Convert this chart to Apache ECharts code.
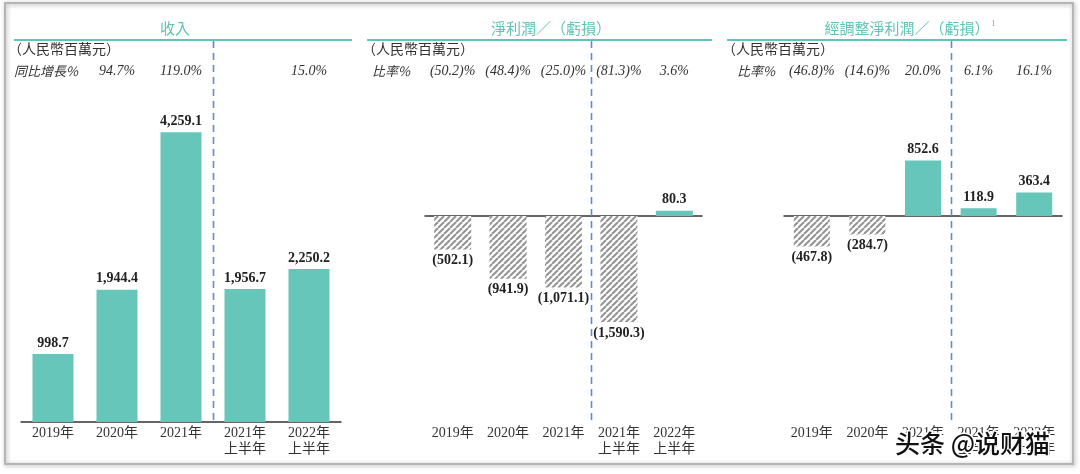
<!DOCTYPE html>
<html>
<head>
<meta charset="utf-8">
<script src="https://cdn.jsdelivr.net/npm/echarts@6/dist/echarts.min.js"></script>
<style>
html,body{margin:0;padding:0;background:#fff;}
#main{width:1080px;height:474px;}
</style>
</head>
<body>
<div id="main"></div>
<script>
// ---- data ----
const categories = ['2019年', '2020年', '2021年', '2021年\n上半年', '2022年\n上半年'];
const revenue = [998.7, 1944.4, 4259.1, 1956.7, 2250.2];
const revenueGrowth = ['', '94.7%', '119.0%', '', '15.0%'];
const netProfit = [-502.1, -941.9, -1071.1, -1590.3, 80.3];
const netMargin = ['(50.2)%', '(48.4)%', '(25.0)%', '(81.3)%', '3.6%'];
const adjProfit = [-467.8, -284.7, 852.6, 118.9, 363.4];
const adjMargin = ['(46.8)%', '(14.6)%', '20.0%', '6.1%', '16.1%'];
const panelTitles = ['收入', '淨利潤／（虧損）', '經調整淨利潤／（虧損）'];
const footnoteMark = '1';
const unitText = '（人民幣百萬元）';
const rowLabels = ['同比增長%', '比率%', '比率%'];

// ---- styles ----
const TEAL = '#66c6b9';
const TITLE_TEAL = '#5fc3b5';
const SERIF = "'Liberation Serif','Noto Sans CJK TC',serif";
const CJK = "'Noto Sans CJK TC','Liberation Serif',sans-serif";

const hatch = document.createElement('canvas');
hatch.width = 6; hatch.height = 6;
(function () {
  const c = hatch.getContext('2d');
  c.fillStyle = '#ffffff'; c.fillRect(0, 0, 6, 6);
  c.strokeStyle = '#939393'; c.lineWidth = 2;
  for (let k = -6; k <= 6; k += 6) {
    c.beginPath(); c.moveTo(k, 6); c.lineTo(k + 6, 0); c.stroke();
  }
})();
const hatchFill = { image: hatch, repeat: 'repeat' };

function fmt(v) {
  const s = Math.abs(v).toLocaleString('en-US', { minimumFractionDigits: 1, maximumFractionDigits: 1 });
  return v < 0 ? '(' + s + ')' : s;
}
function items(arr) {
  return arr.map(v => ({
    value: v,
    itemStyle: { color: v < 0 ? hatchFill : TEAL },
    label: { position: v < 0 ? 'bottom' : 'top' }
  }));
}

const grids = [
  { left: 21, width: 320, top: 100, height: 322 },
  { left: 425, width: 277, top: 100, height: 322 },
  { left: 784, width: 278, top: 100, height: 322 }
];
const yRanges = [[0, 4735], [-3088, 1739], [-3169, 1785]];
const topRows = [revenueGrowth, netMargin, adjMargin];
const seriesData = [revenue, netProfit, adjProfit];
const barWidths = [41, 37, 36];

const xAxes = [], yAxes = [], series = [];
const labelAxisIdx = [];
grids.forEach((g, gi) => {
  yAxes.push({ type: 'value', gridIndex: gi, min: yRanges[gi][0], max: yRanges[gi][1], show: false });
  // bottom category labels
  labelAxisIdx.push(xAxes.length);
  xAxes.push({
    type: 'category', gridIndex: gi, data: categories, position: 'bottom',
    axisLine: { show: gi === 0, onZero: false, lineStyle: { color: '#333', width: 1.5 } },
    axisTick: { show: false },
    axisLabel: { margin: 3, color: '#333', fontSize: 14, lineHeight: 16, fontFamily: SERIF, interval: 0 }
  });
  // top ratio row
  xAxes.push({
    type: 'category', gridIndex: gi, data: topRows[gi], position: 'top',
    axisLine: { show: false, onZero: false }, axisTick: { show: false },
    axisLabel: { margin: 22, color: '#333', fontSize: 14, lineHeight: 14, fontStyle: 'italic', fontFamily: SERIF, interval: 0 }
  });
  if (gi > 0) {
    // zero line
    xAxes.push({
      type: 'category', gridIndex: gi, data: categories, position: 'bottom',
      axisLine: { show: true, onZero: true, lineStyle: { color: '#333', width: 1.5 } },
      axisTick: { show: false }, axisLabel: { show: false }
    });
  }
  series.push({
    type: 'bar', xAxisIndex: labelAxisIdx[gi], yAxisIndex: gi,
    data: items(seriesData[gi]), barWidth: barWidths[gi],
    label: {
      show: true, distance: 4, color: '#222', fontSize: 14, fontWeight: 'bold', fontFamily: SERIF,
      formatter: p => fmt(p.value)
    },
    silent: true
  });
});

const chart = echarts.init(document.getElementById('main'), null, { renderer: 'canvas' });
chart.setOption({
  backgroundColor: '#ffffff',
  animation: false,
  grid: grids,
  xAxis: xAxes,
  yAxis: yAxes,
  series: series
});

// ---- decorations ----
const titleCenters = [175, 551, 907];
const lineSpans = [[14, 352], [367, 712], [727, 1067]];
const leftX = [8, 362, 722];
const rowX = [14, 372, 737];
const graphics = [];
graphics.push({
  type: 'rect', shape: { x: 5, y: 3, width: 1068, height: 461 },
  style: { fill: 'none', stroke: '#b5b5b5', lineWidth: 2, shadowBlur: 4, shadowColor: 'rgba(0,0,0,0.35)', shadowOffsetX: 1, shadowOffsetY: 1 },
  z: 0, silent: true
});
for (let i = 0; i < 3; i++) {
  graphics.push({
    type: 'text', x: titleCenters[i], y: 28, z: 10,
    style: { text: panelTitles[i], fill: TITLE_TEAL, font: '15px ' + CJK, align: 'center', verticalAlign: 'middle' }
  });
  graphics.push({
    type: 'line', shape: { x1: lineSpans[i][0], y1: 40, x2: lineSpans[i][1], y2: 40 },
    style: { stroke: TITLE_TEAL, lineWidth: 2 }, z: 10
  });
  graphics.push({
    type: 'text', x: leftX[i], y: 49, z: 10,
    style: { text: unitText, fill: '#333', font: '14px ' + CJK, align: 'left', verticalAlign: 'middle' }
  });
  graphics.push({
    type: 'text', x: rowX[i], y: 71, z: 10,
    style: { text: rowLabels[i], fill: '#333', font: 'italic 13px ' + CJK, align: 'left', verticalAlign: 'middle' }
  });
  const xi = labelAxisIdx[i];
  const a = chart.convertToPixel({ xAxisIndex: xi }, categories[2]);
  const b = chart.convertToPixel({ xAxisIndex: xi }, categories[3]);
  const mx = Math.round((a + b) / 2) + 0.5;
  graphics.push({
    type: 'line', shape: { x1: mx, y1: 41, x2: mx, y2: 420 },
    style: { stroke: '#5b8fcb', lineWidth: 1.6, lineDash: [7, 5] }, z: 5
  });
}
graphics.push({
  type: 'text', x: 991, y: 24, z: 10,
  style: { text: footnoteMark, fill: TITLE_TEAL, font: '9px ' + SERIF, align: 'left', verticalAlign: 'middle' }
});
graphics.push({
  type: 'text', x: 895, y: 443, z: 20,
  style: {
    text: '头条 @说财猫', fill: '#111', font: '500 25px "Noto Sans CJK SC"',
    align: 'left', verticalAlign: 'middle', stroke: '#ffffff', lineWidth: 3
  }
});
chart.setOption({ graphic: graphics });
</script>
</body>
</html>
